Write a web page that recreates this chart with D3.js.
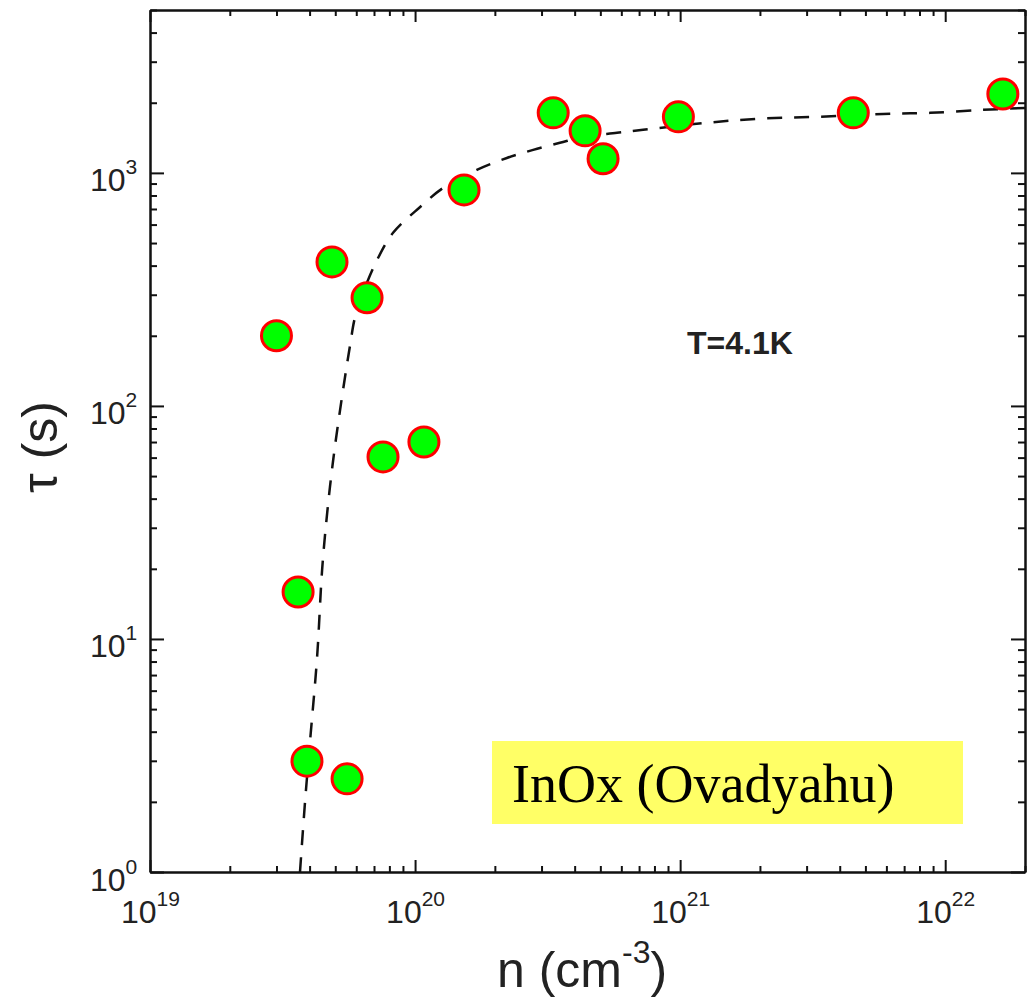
<!DOCTYPE html>
<html>
<head>
<meta charset="utf-8">
<script src="https://cdn.jsdelivr.net/npm/d3@7"></script>
<style>
  body { margin: 0; background: #fff; }
  svg { display: block; }
</style>
</head>
<body>
<svg id="chart" width="1028" height="1001"></svg>
<script>
// measured points: density n (cm^-3) and relaxation time tau (s)
const nVals = [3.0e19, 4.86e19, 6.59e19, 7.57e19, 1.08e20, 3.62e19, 3.91e19, 5.54e19,
  1.53e20, 3.32e20, 4.38e20, 5.12e20, 9.85e20, 4.5e21, 1.65e22]
const tauVals = [200, 415, 291, 60.4, 70, 15.9, 2.99, 2.51,
  845, 1810, 1515, 1150, 1740, 1810, 2180]

// dashed fit line
const fitN = [3.68e19, 3.85e19, 4.02e19, 4.27e19, 4.46e19, 4.66e19, 4.91e19, 5.26e19,
  5.69e19, 5.94e19, 6.47e19, 7.19e19, 8.26e19, 1.045e20, 1.276e20, 1.71e20, 2.22e20, 2.79e20,
  3.52e20, 4.30e20, 5.78e20, 7.25e20, 1.26e21, 2.0e21, 3.29e21, 5.83e21, 8.77e21,
  1.39e22, 2.02e22]
const fitTau = [1.0, 2.04, 3.69, 8.37, 19.8, 34.7, 58.6, 103,
  183, 241, 321, 423, 553, 714, 862, 1030, 1159, 1255,
  1346, 1428, 1486, 1530, 1641, 1708, 1740, 1790, 1810,
  1864, 1900]

const xMajor = [1e19, 1e20, 1e21, 1e22]
const xExp = ["19", "20", "21", "22"]
const yMajor = [1, 10, 100, 1000]
const yExp = ["0", "1", "2", "3"]

const plotL = 150, plotR = 1025, plotT = 10, plotB = 872

const x = d3.scaleLog().domain([1e19, 2e22]).range([plotL, plotR])
const y = d3.scaleLog().domain([1, 5000]).range([plotB, plotT])

const svg = d3.select('#chart')

svg.append('defs').append('clipPath').attr('id', 'plotclip')
  .append('rect')
  .attr('x', plotL).attr('y', plotT)
  .attr('width', plotR - plotL).attr('height', plotB - plotT)

const minorX = x.ticks().filter(v => !xMajor.some(m => Math.abs(v / m - 1) < 1e-6))
const minorY = y.ticks().filter(v => !yMajor.some(m => Math.abs(v / m - 1) < 1e-6))

const styleAxis = g => {
  g.select('.domain').attr('stroke', '#111').attr('stroke-width', 2)
  g.selectAll('.tick line').attr('stroke', '#111').attr('stroke-width', 2)
  g.selectAll('.tick text').remove()
}

// bottom axis
svg.append('g').attr('transform', `translate(0,${plotB})`)
  .call(d3.axisBottom(x).tickValues(minorX).tickSize(-6).tickSizeOuter(0).tickFormat(''))
  .call(styleAxis)
const xb = svg.append('g').attr('transform', `translate(0,${plotB})`)
  .call(d3.axisBottom(x).tickValues(xMajor).tickSize(-12).tickSizeOuter(0).tickFormat(''))
  .call(styleAxis)

xb.selectAll('.tick').each(function(d, i) {
  const t = d3.select(this).append('text')
    .attr('x', 0).attr('y', 51)
    .attr('text-anchor', 'middle')
    .attr('fill', '#222')
    .style('font-family', '"Liberation Sans", Arial, sans-serif')
    .style('font-size', '32px')
  t.append('tspan').text('10')
  t.append('tspan').attr('dy', -17).style('font-size', '21px').text(xExp[i])
})

// top axis
svg.append('g').attr('transform', `translate(0,${plotT})`)
  .call(d3.axisTop(x).tickValues(minorX).tickSize(-6).tickSizeOuter(0).tickFormat(''))
  .call(styleAxis)
svg.append('g').attr('transform', `translate(0,${plotT})`)
  .call(d3.axisTop(x).tickValues(xMajor).tickSize(-12).tickSizeOuter(0).tickFormat(''))
  .call(styleAxis)

// left axis
svg.append('g').attr('transform', `translate(${plotL},0)`)
  .call(d3.axisLeft(y).tickValues(minorY).tickSize(-7).tickSizeOuter(0).tickFormat(''))
  .call(styleAxis)
const yl = svg.append('g').attr('transform', `translate(${plotL},0)`)
  .call(d3.axisLeft(y).tickValues(yMajor).tickSize(-14).tickSizeOuter(0).tickFormat(''))
  .call(styleAxis)

yl.selectAll('.tick').each(function(d, i) {
  const t = d3.select(this).append('text')
    .attr('x', -60).attr('y', 18)
    .attr('text-anchor', 'start')
    .attr('fill', '#222')
    .style('font-family', '"Liberation Sans", Arial, sans-serif')
    .style('font-size', '32px')
  t.append('tspan').text('10')
  t.append('tspan').attr('dy', -17).style('font-size', '21px').text(yExp[i])
})

// right axis
svg.append('g').attr('transform', `translate(${plotR},0)`)
  .call(d3.axisRight(y).tickValues(minorY).tickSize(-7).tickSizeOuter(0).tickFormat(''))
  .call(styleAxis)
svg.append('g').attr('transform', `translate(${plotR},0)`)
  .call(d3.axisRight(y).tickValues(yMajor).tickSize(-14).tickSizeOuter(0).tickFormat(''))
  .call(styleAxis)

// dashed fit
const line = d3.line()
  .x(d => x(d[0]))
  .y(d => y(d[1]))
  .curve(d3.curveCatmullRom.alpha(0.5))

svg.append('path')
  .datum(fitN.map((n, i) => [n, fitTau[i]]))
  .attr('clip-path', 'url(#plotclip)')
  .attr('fill', 'none')
  .attr('stroke', '#111')
  .attr('stroke-width', 2.5)
  .attr('stroke-dasharray', '15,12')
  .attr('d', line)

// points
svg.append('g')
  .selectAll('circle')
  .data(nVals.map((n, i) => [n, tauVals[i]]))
  .enter()
  .append('circle')
  .attr('cx', d => x(d[0]))
  .attr('cy', d => y(d[1]))
  .attr('r', 15)
  .attr('fill', '#00ff00')
  .attr('stroke', '#ff0000')
  .attr('stroke-width', 3)

// annotation
svg.append('text')
  .attr('x', 687).attr('y', 354)
  .attr('fill', '#222')
  .style('font-family', '"Liberation Sans", Arial, sans-serif')
  .style('font-weight', 'bold')
  .style('font-size', '32px')
  .text('T=4.1K')

// yellow label box
svg.append('rect')
  .attr('x', 492).attr('y', 741)
  .attr('width', 471).attr('height', 83)
  .attr('fill', '#ffff66')
svg.append('text')
  .attr('x', 512).attr('y', 802)
  .attr('fill', '#000')
  .style('font-family', '"Liberation Serif", "Times New Roman", serif')
  .style('font-size', '54px')
  .text('InOx (Ovadyahu)')

// axis titles
const xt = svg.append('text')
  .attr('x', 497).attr('y', 987)
  .attr('fill', '#222')
  .style('font-family', '"Liberation Sans", Arial, sans-serif')
  .style('font-size', '50px')
xt.append('tspan').text('n (cm')
xt.append('tspan').attr('dy', -24).style('font-size', '32px').text('-3')
xt.append('tspan').attr('dy', 24).text(')')

svg.append('text')
  .attr('transform', 'translate(57,447) rotate(-90)')
  .attr('text-anchor', 'middle')
  .attr('fill', '#222')
  .style('font-family', '"Liberation Sans", Arial, sans-serif')
  .style('font-size', '50px')
  .text('τ (s)')
</script>
</body>
</html>
